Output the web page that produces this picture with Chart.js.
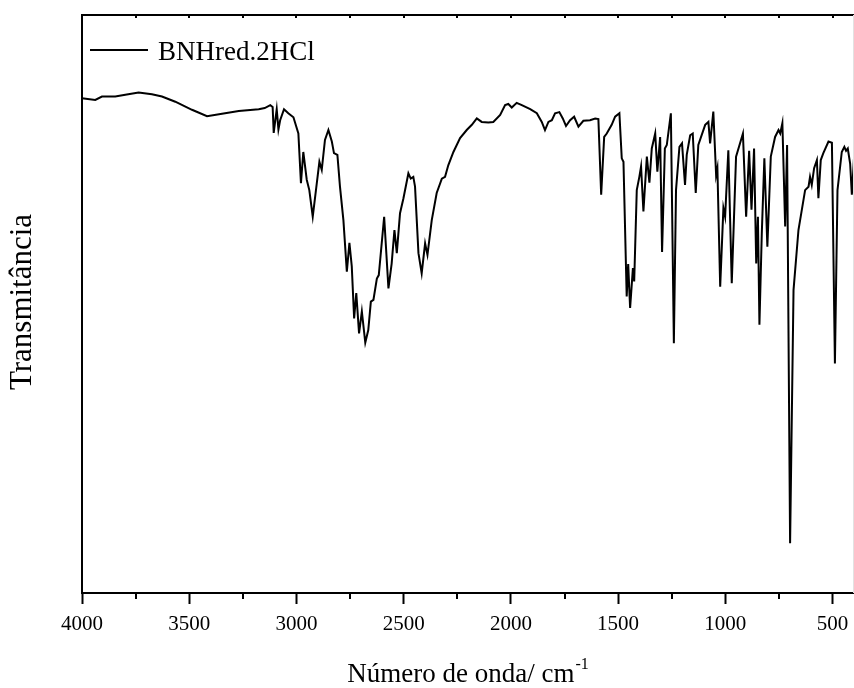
<!DOCTYPE html>
<html>
<head>
<meta charset="utf-8">
<script src="https://cdn.jsdelivr.net/npm/chart.js@4/dist/chart.umd.min.js"></script>
<style>
  html, body { margin: 0; padding: 0; background: #fff; }
  #wrap { width: 854px; height: 688px; }
</style>
</head>
<body>
<div id="wrap"><canvas id="irChart" width="854" height="688"></canvas></div>
<script>
// 파수 (cm-1)
const wavenumbers = [4000,3938,3907,3845,3798,3736,3674,3627,3565,3487,
  3417,3347,3269,3176,3148,3122,3111,3106,3092,3084,
  3076,3058,3038,3014,2991,2979,2968,2952,2940,2924,
  2909,2893,2882,2867,2851,2835,2825,2809,2797,2781,
  2765,2753,2742,2731,2721,2708,2695,2679,2665,2653,
  2641,2625,2616,2591,2571,2556,2543,2532,2517,2501,
  2478,2467,2455,2447,2431,2416,2400,2389,2369,2346,
  2322,2307,2292,2268,2237,2206,2182,2159,2136,2105,
  2082,2050,2027,2012,1996,1973,1949,1910,1879,1856,
  1841,1825,1809,1794,1774,1758,1743,1724,1705,1685,
  1662,1631,1607,1592,1579,1565,1553,1530,1514,1494,
  1483,1475,1460,1453,1444,1431,1425,1413,1401,1393,
  1382,1366,1354,1343,1327,1317,1304,1295,1282,1273,
  1254,1240,1230,1214,1202,1188,1180,1164,1152,1138,
  1126,1094,1079,1071,1056,1043,1037,1024,1009,1001,
  986,970,950,918,903,889,878,866,856,848,
  841,830,818,804,788,768,752,744,734,721,
  712,698,682,659,628,612,605,597,586,573,
  566,555,543,519,503,489,477,457,445,437,
  429,418,410,399];

// 투과율 (임의 단위)
const transmittance = [85.6,85.3,85.9,85.9,86.2,86.6,86.3,85.9,85.0,83.6,
  82.5,82.9,83.4,83.7,83.9,84.4,84.1,79.6,83.7,80.2,
  81.8,83.7,83.0,82.3,79.5,70.9,76.3,71.5,69.7,65.1,
  69.7,74.6,73.2,78.4,80.1,78.1,76.1,75.8,70.3,64.5,
  55.6,60.6,56.5,47.5,51.9,44.9,48.7,43.3,45.5,50.4,
  50.7,54.4,55.0,65.1,52.7,57.0,62.8,58.8,65.7,68.3,
  72.6,71.7,72.0,70.3,58.8,55.3,60.5,58.5,64.5,69.2,
  71.7,72.0,74.0,76.3,78.7,80.1,81.0,82.1,81.5,81.4,
  81.5,82.7,84.4,84.6,84.0,84.8,84.4,83.7,83.0,81.5,
  80.1,81.5,81.8,83.0,83.2,82.1,80.8,81.8,82.4,80.7,
  81.7,81.8,82.1,82.0,68.9,78.9,79.5,81.0,82.4,83.0,
  75.2,74.6,51.3,56.9,49.3,56.2,53.9,69.7,72.0,73.8,
  66.0,75.5,71.0,76.9,79.5,72.9,78.9,59.0,76.9,77.5,
  83.0,43.2,69.7,77.2,77.8,70.6,75.8,79.2,79.5,69.2,
  77.5,81.0,81.5,77.8,83.3,72.3,73.5,53.0,66.6,65.1,
  76.6,53.6,75.5,79.5,65.1,76.5,66.3,76.9,57.0,65.1,
  46.4,62.2,75.2,59.9,75.5,78.9,80.1,79.5,81.3,63.4,
  77.5,8.6,52.4,62.8,69.7,70.3,72.0,70.6,73.5,74.9,
  68.3,74.9,76.1,78.1,77.9,39.7,69.7,76.3,77.2,76.5,
  76.9,74.3,68.9,75.9];

// x축 눈금 (250 간격, 500 간격에만 라벨)
const xTickValues = [4000,3750,3500,3250,3000,2750,2500,2250,2000,1750,1500,1250,1000,750,500];
const xTickLabels = ['4000','','3500','','3000','','2500','','2000','','1500','','1000','','500'];

const seriesLabel = 'BNHred.2HCl';
const xTitle = 'Número de onda/ cm';
const xTitleSup = '-1';
const yTitle = 'Transmitância';

const SERIF = '"Liberation Serif", "Times New Roman", serif';

// 프레임, 보조 눈금, 범례, 축 제목 그리기
const decorPlugin = {
    id: 'decor',
    afterDraw(chart) {
        const { ctx, chartArea: a } = chart;
        const xs = chart.scales.x;
        ctx.save();
        ctx.strokeStyle = '#000';
        ctx.lineWidth = 2;
        ctx.beginPath();
        ctx.moveTo(a.left, a.bottom);
        ctx.lineTo(a.left, a.top);
        ctx.lineTo(a.right, a.top);
        ctx.stroke();

        // 보조 눈금 (아래) + 위쪽 안쪽 눈금
        xTickValues.forEach((v, i) => {
            const px = Math.round(xs.getPixelForValue(v));
            ctx.beginPath();
            if (!xTickLabels[i]) {
                ctx.moveTo(px, a.bottom);
                ctx.lineTo(px, a.bottom + 6);
            }
            ctx.moveTo(px, a.top);
            ctx.lineTo(px, a.top + 3);
            ctx.stroke();
        });

        // 오른쪽 가장자리 (잘린 테두리)
        ctx.strokeStyle = '#e2e2e2';
        ctx.lineWidth = 1;
        ctx.beginPath();
        ctx.moveTo(a.right - 0.5, a.top);
        ctx.lineTo(a.right - 0.5, a.bottom);
        ctx.stroke();

        // 범례
        ctx.strokeStyle = '#000';
        ctx.lineWidth = 2;
        ctx.beginPath();
        ctx.moveTo(a.left + 8, 50);
        ctx.lineTo(a.left + 66, 50);
        ctx.stroke();
        ctx.fillStyle = '#000';
        ctx.font = '27px ' + SERIF;
        ctx.textAlign = 'left';
        ctx.textBaseline = 'alphabetic';
        ctx.fillText(chart.data.datasets[0].label, a.left + 76, 60);

        // x축 제목 (위첨자 포함)
        ctx.font = '27px ' + SERIF;
        const w1 = ctx.measureText(xTitle).width;
        ctx.font = '16px ' + SERIF;
        const w2 = ctx.measureText(xTitleSup).width;
        const cx = (a.left + a.right) / 2;
        const startX = cx - (w1 + w2 + 1) / 2;
        ctx.font = '27px ' + SERIF;
        ctx.fillText(xTitle, startX, 682);
        ctx.font = '16px ' + SERIF;
        ctx.fillText(xTitleSup, startX + w1 + 1, 669);

        // y축 제목
        ctx.translate(23, 302);
        ctx.rotate(-Math.PI / 2);
        ctx.font = '31px ' + SERIF;
        ctx.textAlign = 'center';
        ctx.textBaseline = 'middle';
        ctx.fillText(yTitle, 0, 0);
        ctx.restore();
    }
};

function initChart() {
    const ctx = document.getElementById('irChart').getContext('2d');
    const points = wavenumbers.map((w, i) => ({ x: w, y: transmittance[i] }));

    new Chart(ctx, {
        type: 'line',
        data: {
            datasets: [{
                label: seriesLabel,
                data: points,
                borderColor: '#000',
                borderWidth: 2,
                pointRadius: 0,
                tension: 0,
                fill: false
            }]
        },
        options: {
            responsive: false,
            animation: false,
            layout: { padding: { left: 82, top: 15, right: 0, bottom: 0 } },
            scales: {
                x: {
                    type: 'linear',
                    min: 400,
                    max: 4000,
                    reverse: true,
                    afterBuildTicks: s => { s.ticks = xTickValues.slice().reverse().map(v => ({ value: v })); },
                    afterFit: s => { s.height = 95; },
                    border: { display: true, color: '#000', width: 2 },
                    grid: {
                        drawOnChartArea: false,
                        drawTicks: true,
                        tickLength: 11,
                        tickWidth: 2,
                        tickColor: c => (c.tick && c.tick.value % 500 === 0) ? '#000' : 'rgba(0,0,0,0)'
                    },
                    ticks: {
                        autoSkip: false,
                        maxRotation: 0,
                        padding: 8,
                        color: '#000',
                        font: { family: SERIF, size: 21 },
                        callback: v => xTickLabels[xTickValues.indexOf(v)] || ''
                    }
                },
                y: {
                    display: false,
                    min: 0,
                    max: 100
                }
            },
            plugins: {
                legend: { display: false },
                tooltip: { enabled: false }
            }
        },
        plugins: [decorPlugin]
    });
}

document.addEventListener('DOMContentLoaded', initChart);
</script>
</body>
</html>
